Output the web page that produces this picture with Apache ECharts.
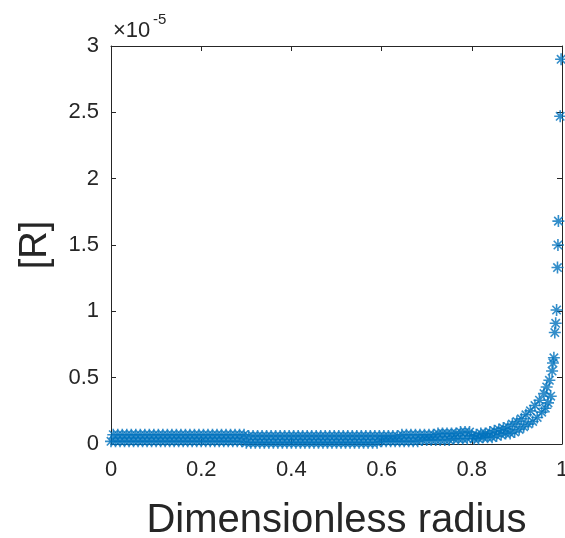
<!DOCTYPE html>
<html>
<head>
<meta charset="UTF-8">
<title>[R] vs radius</title>
<script src="https://cdn.jsdelivr.net/npm/echarts@6/dist/echarts.min.js"></script>
<style>
  html, body { margin: 0; padding: 0; background: #fff; }
  #chart { width: 565px; height: 538px; }
</style>
</head>
<body>
<div id="chart"></div>
<script>
// dimensionless radius of each sample point
var radius = [
  0.000, 0.005, 0.010, 0.015, 0.020, 0.025, 0.030, 0.035, 0.040, 0.045,
  0.050, 0.055, 0.060, 0.065, 0.070, 0.075, 0.080, 0.085, 0.090, 0.095,
  0.100, 0.105, 0.110, 0.115, 0.120, 0.125, 0.130, 0.135, 0.140, 0.145,
  0.150, 0.155, 0.160, 0.165, 0.170, 0.175, 0.180, 0.185, 0.190, 0.195,
  0.200, 0.205, 0.210, 0.215, 0.220, 0.225, 0.230, 0.235, 0.240, 0.245,
  0.250, 0.255, 0.260, 0.265, 0.270, 0.275, 0.280, 0.285, 0.290, 0.295,
  0.300, 0.305, 0.310, 0.315, 0.320, 0.325, 0.330, 0.335, 0.340, 0.345,
  0.350, 0.355, 0.360, 0.365, 0.370, 0.375, 0.380, 0.385, 0.390, 0.395,
  0.400, 0.405, 0.410, 0.415, 0.420, 0.425, 0.430, 0.435, 0.440, 0.445,
  0.450, 0.455, 0.460, 0.465, 0.470, 0.475, 0.480, 0.485, 0.490, 0.495,
  0.500, 0.505, 0.510, 0.515, 0.520, 0.525, 0.530, 0.535, 0.540, 0.545,
  0.550, 0.555, 0.560, 0.565, 0.570, 0.575, 0.580, 0.585, 0.590, 0.595,
  0.600, 0.605, 0.610, 0.615, 0.620, 0.625, 0.630, 0.635, 0.640, 0.645,
  0.650, 0.655, 0.660, 0.665, 0.670, 0.675, 0.680, 0.685, 0.690, 0.695,
  0.700, 0.705, 0.710, 0.715, 0.720, 0.725, 0.730, 0.735, 0.740, 0.745,
  0.750, 0.755, 0.760, 0.765, 0.770, 0.775, 0.780, 0.785, 0.790, 0.795,
  0.800, 0.805, 0.810, 0.815, 0.820, 0.825, 0.830, 0.835, 0.840, 0.845,
  0.850, 0.855, 0.860, 0.865, 0.870, 0.875, 0.880, 0.885, 0.890, 0.895,
  0.900, 0.905, 0.910, 0.915, 0.920, 0.925, 0.930, 0.935, 0.940, 0.945,
  0.950, 0.955, 0.960, 0.963, 0.966, 0.969, 0.972, 0.975, 0.978, 0.980,
  0.982, 0.984, 0.986, 0.988, 0.990, 0.991, 0.992, 0.996, 0.998
];

// [R] at each point, in units of 1e-5
var concE5 = [
  0.02, 0.07, 0.02, 0.07, 0.02, 0.07, 0.02, 0.07, 0.02, 0.07,
  0.02, 0.07, 0.02, 0.07, 0.02, 0.07, 0.02, 0.07, 0.02, 0.07,
  0.02, 0.07, 0.02, 0.07, 0.02, 0.07, 0.02, 0.07, 0.02, 0.07,
  0.02, 0.07, 0.02, 0.07, 0.02, 0.07, 0.02, 0.07, 0.02, 0.07,
  0.02, 0.07, 0.02, 0.07, 0.02, 0.07, 0.02, 0.07, 0.02, 0.07,
  0.02, 0.07, 0.02, 0.07, 0.02, 0.07, 0.02, 0.07, 0.02, 0.07,
  0.01, 0.06, 0.01, 0.06, 0.01, 0.06, 0.01, 0.06, 0.01, 0.06,
  0.01, 0.06, 0.01, 0.06, 0.01, 0.06, 0.01, 0.06, 0.01, 0.06,
  0.01, 0.06, 0.01, 0.06, 0.01, 0.06, 0.01, 0.06, 0.01, 0.06,
  0.01, 0.06, 0.01, 0.06, 0.01, 0.06, 0.01, 0.06, 0.01, 0.06,
  0.01, 0.06, 0.01, 0.06, 0.01, 0.06, 0.01, 0.06, 0.01, 0.06,
  0.01, 0.06, 0.01, 0.06, 0.01, 0.06, 0.01, 0.06, 0.01, 0.06,
  0.02, 0.06, 0.02, 0.06, 0.02, 0.06, 0.02, 0.06, 0.02, 0.07,
  0.02, 0.07, 0.02, 0.07, 0.02, 0.07, 0.02, 0.07, 0.03, 0.07,
  0.03, 0.07, 0.03, 0.07, 0.03, 0.08, 0.03, 0.08, 0.03, 0.08,
  0.03, 0.08, 0.04, 0.08, 0.04, 0.09, 0.04, 0.09, 0.04, 0.09,
  0.06, 0.04, 0.07, 0.04, 0.08, 0.05, 0.08, 0.05, 0.09, 0.05,
  0.10, 0.06, 0.11, 0.07, 0.12, 0.08, 0.13, 0.08, 0.15, 0.09,
  0.17, 0.11, 0.19, 0.13, 0.22, 0.15, 0.25, 0.17, 0.29, 0.20,
  0.33, 0.24, 0.38, 0.27, 0.43, 0.31, 0.48, 0.36, 0.55, 0.61,
  0.65, 0.84, 0.91, 1.01, 1.33, 1.50, 1.68, 2.47, 2.90
];

var xTicks = { min: 0, max: 1, interval: 0.2 };
var yTicks = { min: 0, max: 3, interval: 0.5 };

var points = radius.map(function (r, i) { return [r, concE5[i]]; });

var textColor = '#262626';
var font = 'Liberation Sans, Arial, sans-serif';
var asterisk = 'path://M0,-10L0,10M-10,0L10,0M-7,-7L7,7M-7,7L7,-7';

var chart = echarts.init(document.getElementById('chart'));

function axisBase(extra) {
  var base = {
    type: 'value',
    splitLine: { show: false },
    axisLine: { show: true, onZero: false, lineStyle: { color: textColor, width: 1 } },
    axisTick: { show: true, inside: true, length: 5, lineStyle: { color: textColor } },
    axisLabel: { show: false }
  };
  return Object.assign(base, extra);
}

chart.setOption({
  animation: false,
  backgroundColor: '#fff',
  grid: { left: 111, top: 46, width: 451, height: 398, containLabel: false, outerBoundsMode: 'none' },
  xAxis: [
    axisBase({
      position: 'bottom',
      min: xTicks.min, max: xTicks.max, interval: xTicks.interval,
      axisLabel: { show: true, color: textColor, fontSize: 22, fontFamily: font, margin: 15 },
      name: 'Dimensionless radius',
      nameLocation: 'middle',
      nameGap: 57,
      nameTextStyle: { color: textColor, fontSize: 40, fontFamily: font }
    }),
    axisBase({ position: 'top', min: xTicks.min, max: xTicks.max, interval: xTicks.interval })
  ],
  yAxis: [
    axisBase({
      position: 'left',
      min: yTicks.min, max: yTicks.max, interval: yTicks.interval,
      axisLabel: { show: true, color: textColor, fontSize: 22, fontFamily: font, margin: 12 },
      name: '[R]',
      nameLocation: 'middle',
      nameRotate: 90,
      nameGap: 56,
      nameTextStyle: { color: textColor, fontSize: 38, fontFamily: font }
    }),
    axisBase({ position: 'right', min: yTicks.min, max: yTicks.max, interval: yTicks.interval })
  ],
  graphic: [
    { type: 'text', left: 113, top: 20, style: { text: '×10', fill: textColor, font: '22px ' + font } },
    { type: 'text', left: 153, top: 12, style: { text: '-5', fill: textColor, font: '15px ' + font } }
  ],
  series: [{
    type: 'scatter',
    xAxisIndex: 0,
    yAxisIndex: 0,
    data: points,
    symbol: asterisk,
    symbolSize: 12,
    clip: false,
    itemStyle: { color: 'transparent', borderColor: '#0072BD', borderWidth: 1.6 }
  }]
});
</script>
</body>
</html>
